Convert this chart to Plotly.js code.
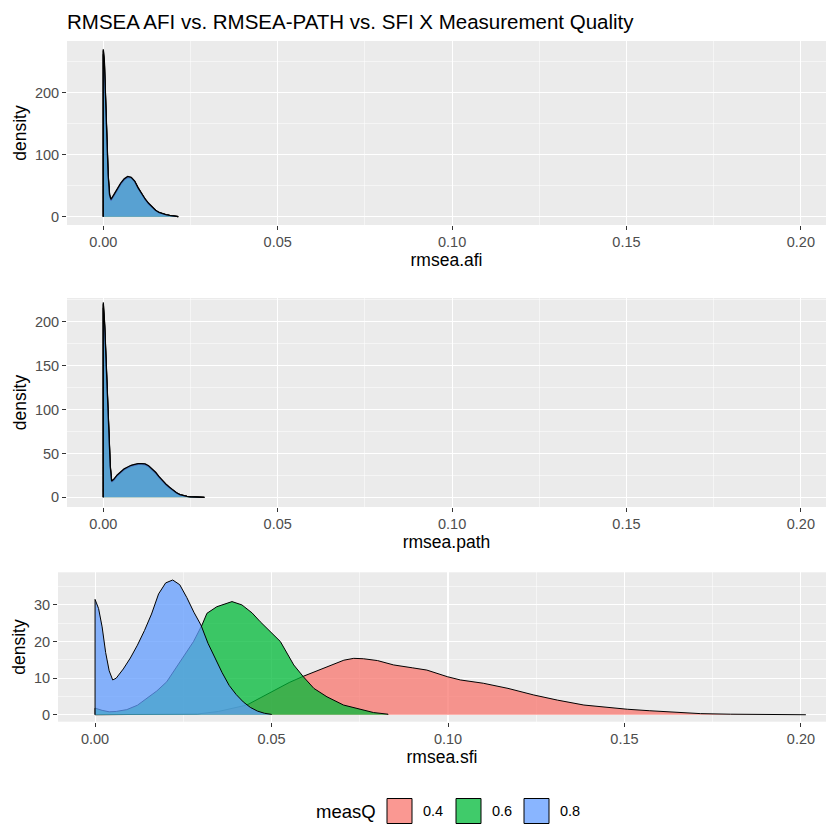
<!DOCTYPE html>
<html>
<head>
<meta charset="utf-8">
<script src="https://cdn.plot.ly/plotly-3.0.1.min.js"></script>
<style>html,body{margin:0;padding:0;background:#fff;}#chart{width:826px;height:827px;}</style>
</head>
<body>
<div id="chart"></div>
<script>
// ---- data ----
var groups = ['0.4', '0.6', '0.8'];
var groupColors = ['#F8766D', '#00BA38', '#619CFF'];

// Panel 1: rmsea.afi (three nearly identical group densities)
var afiX = [0, 0.0003, 0.0006, 0.001, 0.0014, 0.0018, 0.0022, 0.003, 0.004, 0.005, 0.006, 0.007, 0.008, 0.009, 0.010, 0.011, 0.012, 0.013, 0.014, 0.015, 0.016, 0.017, 0.018, 0.019, 0.020, 0.021, 0.0215];
var afi04 = [268, 250, 195, 115, 66, 35, 27, 34, 44, 53, 60, 64, 63, 57, 46, 36, 28, 21, 15, 10, 6.5, 4.5, 3, 2, 1.2, 0.6, 0.4];
var afi06 = [262, 246, 190, 112, 64, 34, 26, 33, 43, 52, 59, 63, 62.5, 56, 45.5, 35.5, 27.5, 20.5, 14.5, 9.8, 6.3, 4.3, 2.9, 1.9, 1.1, 0.6, 0.3];
var afi08 = [270, 253, 198, 118, 68, 36, 28, 35, 45, 54, 61, 65, 63.5, 57.5, 46.5, 36.5, 28.5, 21.5, 15.5, 10.3, 6.7, 4.6, 3.1, 2.1, 1.3, 0.7, 0.4];

// Panel 2: rmsea.path
var pathX = [0, 0.0004, 0.0008, 0.0012, 0.0016, 0.002, 0.0024, 0.003, 0.004, 0.005, 0.006, 0.007, 0.008, 0.009, 0.010, 0.011, 0.012, 0.013, 0.014, 0.015, 0.016, 0.017, 0.018, 0.019, 0.020, 0.021, 0.022, 0.023, 0.024, 0.025, 0.026, 0.027, 0.028, 0.029];
var path04 = [220, 195, 150, 110, 65, 35, 18, 20, 25, 29, 32, 34, 36, 37, 38, 38, 37.5, 35.5, 32, 28, 23, 18.5, 14.5, 11, 7.5, 5, 3, 1.8, 1.1, 0.7, 0.5, 0.3, 0.2, 0.1];
var path06 = [216, 192, 147, 108, 63, 34, 17.5, 19.5, 24.5, 28.5, 31.5, 33.5, 35.5, 36.5, 37.5, 37.5, 37, 35, 31.5, 27.5, 22.5, 18, 14, 10.6, 7.2, 4.8, 2.9, 1.7, 1.0, 0.7, 0.5, 0.3, 0.2, 0.1];
var path08 = [222, 197, 152, 112, 66, 36, 18.5, 20.5, 25.5, 29.5, 32.5, 34.5, 36.5, 37.5, 38.5, 38.5, 38, 36, 32.5, 28.5, 23.5, 19, 15, 11.4, 7.8, 5.2, 3.1, 1.9, 1.2, 0.8, 0.5, 0.3, 0.2, 0.1];

// Panel 3: rmsea.sfi
var sfiX04 = [0, 0.01, 0.02, 0.029, 0.035, 0.040, 0.043, 0.047, 0.051, 0.055, 0.059, 0.062, 0.065, 0.068, 0.0705, 0.0733, 0.076, 0.080, 0.0846, 0.090, 0.094, 0.0998, 0.1035, 0.110, 0.117, 0.1243, 0.131, 0.1385, 0.145, 0.1508, 0.157, 0.164, 0.1716, 0.18, 0.19, 0.2014];
var sfi04 = [0, 0.02, 0.08, 0.2, 0.9, 1.9, 2.65, 4.7, 6.7, 8.8, 10.5, 11.6, 12.8, 14, 14.9, 15.4, 15.3, 14.8, 13.6, 12.8, 12.2, 10.4, 9.5, 8.6, 7.2, 5.4, 4.0, 2.65, 2.0, 1.5, 1.1, 0.8, 0.3, 0.15, 0.1, 0.08];
var sfiX06 = [0, 0.002, 0.004, 0.006, 0.009, 0.012, 0.0147, 0.0175, 0.0203, 0.0241, 0.0279, 0.0303, 0.0317, 0.0345, 0.0388, 0.0416, 0.0445, 0.0468, 0.0496, 0.0525, 0.0563, 0.059, 0.062, 0.0657, 0.0704, 0.075, 0.0789, 0.083];
var sfi06 = [1.8, 1.2, 0.8, 0.9, 1.4, 2.6, 4.5, 6.5, 9.0, 14.5, 20, 24.5, 27.7, 29.5, 30.9, 30, 27.8, 25.4, 22.7, 20, 13.6, 10.4, 7.2, 4.9, 2.65, 1.5, 0.6, 0.15];
var sfiX08 = [0, 0.001, 0.002, 0.003, 0.004, 0.005, 0.006, 0.008, 0.010, 0.012, 0.014, 0.016, 0.018, 0.020, 0.022, 0.024, 0.026, 0.028, 0.030, 0.032, 0.034, 0.036, 0.038, 0.040, 0.042, 0.044, 0.046, 0.048, 0.050];
var sfi08 = [31.5, 29, 24, 17, 12, 9.5, 10, 12.5, 15.5, 19, 23, 27.5, 33, 36, 36.8, 35.5, 32, 28, 24.5, 19.5, 15.5, 11.5, 8, 5.5, 3.5, 2, 1, 0.4, 0.1];

var xTickVals = [0, 0.05, 0.10, 0.15, 0.20];
var xTickText = ['0.00', '0.05', '0.10', '0.15', '0.20'];

// ---- helpers ----
function rgba(hex, a) {
  var r = parseInt(hex.slice(1, 3), 16), g = parseInt(hex.slice(3, 5), 16), b = parseInt(hex.slice(5, 7), 16);
  return 'rgba(' + r + ',' + g + ',' + b + ',' + a + ')';
}
function densityTrace(xs, ys, gi, xa, ya, lw) {
  var px = [xs[0]].concat(xs, [xs[xs.length - 1]]);
  var py = [0].concat(ys, [0]);
  return {
    x: px, y: py, xaxis: xa, yaxis: ya,
    type: 'scatter', mode: 'lines', fill: 'toself',
    fillcolor: rgba(groupColors[gi], 0.75),
    line: { color: '#000', width: lw },
    name: groups[gi], legendgroup: groups[gi], showlegend: false,
    hoverinfo: 'x+y+name'
  };
}

var traces = [];
[[afiX, afi04], [afiX, afi06], [afiX, afi08]].forEach(function (d, i) { traces.push(densityTrace(d[0], d[1], i, 'x', 'y', 1.3)); });
[[pathX, path04], [pathX, path06], [pathX, path08]].forEach(function (d, i) { traces.push(densityTrace(d[0], d[1], i, 'x2', 'y2', 1.3)); });
[[sfiX04, sfi04], [sfiX06, sfi06], [sfiX08, sfi08]].forEach(function (d, i) { traces.push(densityTrace(d[0], d[1], i, 'x3', 'y3', 1)); });

var W = 826, H = 827;
var FAM = 'Liberation Sans, Arial, sans-serif';
var tickFont = { family: FAM, size: 14.5, color: '#4D4D4D' };
var titleFont = { family: FAM, size: 17.5, color: '#000' };

function xAxis(left, anchor, titleText, range) {
  return {
    domain: [left / W, 1], anchor: anchor, range: range,
    tickvals: xTickVals, ticktext: xTickText,
    ticks: 'outside', ticklen: 4, tickwidth: 1, tickcolor: '#333333',
    tickfont: tickFont, showgrid: true, gridcolor: '#FFFFFF', gridwidth: 1.1,
    minor: { dtick: 0.025, tick0: 0, showgrid: true, gridcolor: '#FFFFFF', gridwidth: 0.5, ticks: '' },
    zeroline: false, showline: false,
    title: { text: titleText, font: titleFont, standoff: 2 }
  };
}
function yAxis(top, bottom, anchor, range, dtick) {
  return {
    domain: [1 - bottom / H, 1 - top / H], anchor: anchor, range: range,
    tick0: 0, dtick: dtick,
    ticks: 'outside', ticklen: 4, tickwidth: 1, tickcolor: '#333333',
    tickfont: tickFont, showgrid: true, gridcolor: '#FFFFFF', gridwidth: 1.1,
    minor: { dtick: dtick / 2, tick0: 0, showgrid: true, gridcolor: '#FFFFFF', gridwidth: 0.5, ticks: '' },
    zeroline: false, showline: false,
    title: { text: 'density', font: titleFont, standoff: 3 }
  };
}

var legendY = 811, boxS = 25;
var legendBoxes = [387, 456, 524];
var shapes = [], annotations = [];
legendBoxes.forEach(function (bx, i) {
  shapes.push({ type: 'rect', xref: 'paper', yref: 'paper',
    x0: bx / W, x1: (bx + boxS) / W, y0: 1 - (legendY + boxS / 2) / H, y1: 1 - (legendY - boxS / 2) / H,
    fillcolor: rgba(groupColors[i], 0.75), line: { color: '#000', width: 1 } });
  annotations.push({ xref: 'paper', yref: 'paper', x: (bx + boxS + 9) / W, y: 1 - legendY / H,
    xanchor: 'left', yanchor: 'middle', showarrow: false, text: groups[i],
    font: { family: FAM, size: 14.5, color: '#000' } });
});
annotations.push({ xref: 'paper', yref: 'paper', x: 314 / W, y: 1 - legendY / H, xanchor: 'left', yanchor: 'middle',
  showarrow: false, text: 'measQ', font: { family: FAM, size: 18.5, color: '#000' } });

var layout = {
  width: W, height: H,
  margin: { l: 0, r: 0, t: 0, b: 0, pad: 0 },
  paper_bgcolor: '#FFFFFF', plot_bgcolor: '#EBEBEB',
  showlegend: false,
  title: { text: 'RMSEA AFI vs. RMSEA-PATH vs. SFI X Measurement Quality',
    x: 67 / W, xanchor: 'left', xref: 'paper', y: 1 - 22 / H, yanchor: 'middle', yref: 'paper',
    font: { family: FAM, size: 20.5, color: '#000' } },
  xaxis: xAxis(67, 'y', 'rmsea.afi', [-0.0104, 0.2072]),
  yaxis: yAxis(41, 225, 'x', [-13.5, 283.5], 100),
  xaxis2: xAxis(67, 'y2', 'rmsea.path', [-0.0104, 0.2072]),
  yaxis2: yAxis(298, 507, 'x2', [-11, 227], 50),
  xaxis3: xAxis(58, 'y3', 'rmsea.sfi', [-0.0105, 0.2071]),
  yaxis3: yAxis(572.3, 721.7, 'x3', [-1.9, 38.9], 10),
  shapes: shapes, annotations: annotations
};

Plotly.newPlot('chart', traces, layout, { staticPlot: true, displayModeBar: false });
</script>
</body>
</html>
